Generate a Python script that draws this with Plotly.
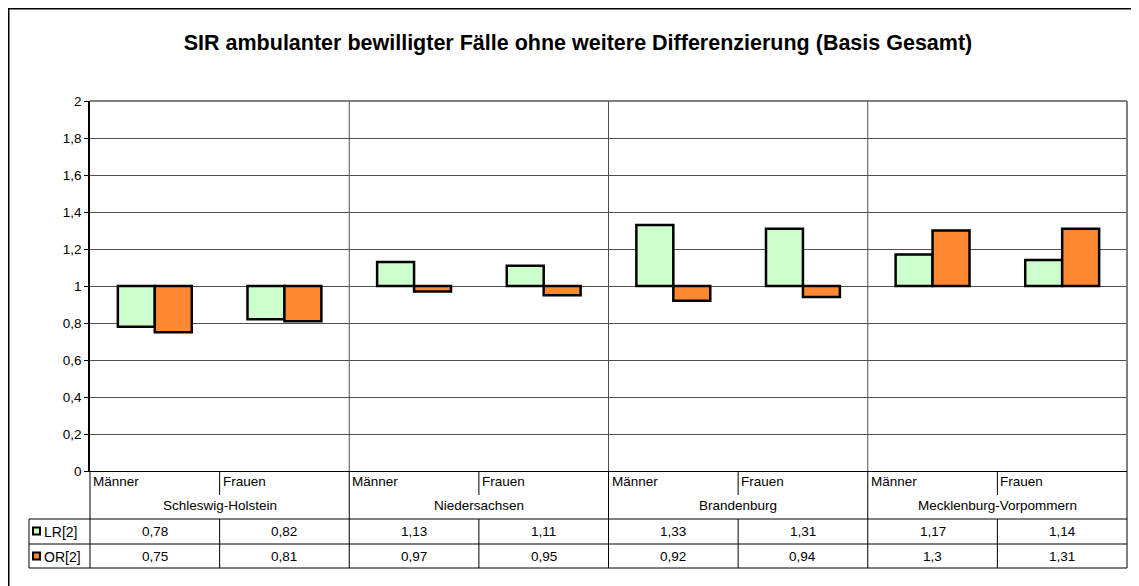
import plotly.graph_objects as go

title = "SIR ambulanter bewilligter Fälle ohne weitere Differenzierung (Basis Gesamt)"
regions = ["Schleswig-Holstein", "Niedersachsen", "Brandenburg", "Mecklenburg-Vorpommern"]
sexes = ["Männer", "Frauen"]
series_names = ["LR[2]", "OR[2]"]
lr_values = [0.78, 0.82, 1.13, 1.11, 1.33, 1.31, 1.17, 1.14]
or_values = [0.75, 0.81, 0.97, 0.95, 0.92, 0.94, 1.30, 1.31]
baseline = 1.0
colors = ["#CCFFCC", "#FF8833"]

# page offset caused by default body margin of the html page
OFF = 8
W, H = 1139 - OFF, 586 - OFF
# layout positions in page pixels (reference)
L, R, T, B = 90, 1127, 101, 471

PH = B - T
PW = R - L

def py(y):
    return (B - y) / PH

def px(x):
    return (x - L) / PW

n = len(lr_values)
xs = list(range(n))

def fmt(v):
    return f"{v:g}".replace(".", ",")

fig = go.Figure()
for name, vals, col in zip(series_names, [lr_values, or_values], colors):
    fig.add_trace(go.Bar(
        x=xs, y=[v - baseline for v in vals], base=baseline, name=name,
        marker=dict(color=col, line=dict(color="black", width=2.5)),
        showlegend=False,
    ))

font = "Liberation Sans, Arial, sans-serif"
FS = 13.5
shapes = []
ann = []

# outer frame (only left/top edges are inside the picture)
shapes.append(dict(type="line", xref="paper", yref="paper", x0=px(OFF + 0.75), x1=px(OFF + 0.75),
                   y0=py(600), y1=py(OFF + 0.75), line=dict(color="black", width=1.5), layer="below"))
shapes.append(dict(type="line", xref="paper", yref="paper", x0=px(OFF), x1=px(1160),
                   y0=py(OFF + 0.75), y1=py(OFF + 0.75), line=dict(color="black", width=1.5), layer="below"))
# plot border top/right (gray)
shapes.append(dict(type="line", xref="paper", yref="paper", x0=0, x1=1, y0=1, y1=1,
                   line=dict(color="#808080", width=2)))
shapes.append(dict(type="line", xref="paper", yref="paper", x0=1, x1=1, y0=0, y1=1,
                   line=dict(color="#808080", width=2)))

# group separators through plot and table
for g in range(1, len(regions)):
    xb = 2 * g - 0.5
    shapes.append(dict(type="line", xref="x", yref="paper", x0=xb, x1=xb, y0=0, y1=1,
                       line=dict(color="#505050", width=1)))
    shapes.append(dict(type="line", xref="x", yref="paper", x0=xb, x1=xb, y0=py(568), y1=0,
                       line=dict(color="black", width=1)))
# sex separators (short in label row, full in data rows)
for g in range(len(regions)):
    xb = 2 * g + 0.5
    shapes.append(dict(type="line", xref="x", yref="paper", x0=xb, x1=xb, y0=py(495), y1=0,
                       line=dict(color="black", width=1)))
    shapes.append(dict(type="line", xref="x", yref="paper", x0=xb, x1=xb, y0=py(568), y1=py(519),
                       line=dict(color="black", width=1)))
# table horizontal lines
for yy in [519, 544, 568]:
    shapes.append(dict(type="line", xref="paper", yref="paper", x0=px(29), x1=1, y0=py(yy), y1=py(yy),
                       line=dict(color="black", width=1)))
# table verticals
shapes.append(dict(type="line", xref="paper", yref="paper", x0=px(29), x1=px(29), y0=py(568), y1=py(519),
                   line=dict(color="black", width=1)))
shapes.append(dict(type="line", xref="paper", yref="paper", x0=0, x1=0, y0=py(568), y1=0,
                   line=dict(color="black", width=1)))
shapes.append(dict(type="line", xref="paper", yref="paper", x0=1, x1=1, y0=py(568), y1=0,
                   line=dict(color="black", width=1)))

# category labels
for i in xs:
    ann.append(dict(x=i - 0.5, y=py(482), xref="x", yref="paper", text=sexes[i % 2],
                    xanchor="left", yanchor="middle", showarrow=False, xshift=1,
                    font=dict(family=font, size=FS, color="black")))
for g, reg in enumerate(regions):
    ann.append(dict(x=2 * g + 0.5, y=py(505), xref="x", yref="paper", text=reg,
                    xanchor="center", yanchor="middle", showarrow=False,
                    font=dict(family=font, size=FS, color="black")))
# value rows
row_y = [531, 556]
for vals, ry in zip([lr_values, or_values], row_y):
    for i, v in zip(xs, vals):
        ann.append(dict(x=i, y=py(ry), xref="x", yref="paper", text=fmt(v),
                        xanchor="center", yanchor="middle", showarrow=False,
                        font=dict(family=font, size=FS, color="black")))
# legend keys
for name, col, ry in zip(series_names, colors, row_y):
    shapes.append(dict(type="rect", xref="paper", yref="paper", x0=px(33), x1=px(40),
                       y0=py(ry + 3.5), y1=py(ry - 3.5), fillcolor=col,
                       line=dict(color="black", width=2)))
    ann.append(dict(x=px(41.5), y=py(ry + 0.5), xref="paper", yref="paper", text=name,
                    xanchor="left", yanchor="middle", showarrow=False,
                    font=dict(family=font, size=FS + 0.5, color="black")))

fig.update_layout(
    width=W, height=H, autosize=False,
    margin=dict(l=L - OFF, r=(W + OFF) - R, t=T - OFF, b=(H + OFF) - B, pad=0),
    paper_bgcolor="white", plot_bgcolor="white",
    separators=",.",
    title=dict(text="<b>" + title + "</b>", x=(578 - OFF) / W, xref="container", xanchor="center",
               y=1 - (42 - OFF) / H, yref="container", yanchor="middle",
               font=dict(family=font, size=21.5, color="black")),
    barmode="group", bargap=0.43, bargroupgap=0,
    xaxis=dict(range=[-0.5, n - 0.5], showticklabels=False, showgrid=False, zeroline=False,
               showline=True, linecolor="black", linewidth=1, ticks=""),
    yaxis=dict(range=[0, 2], dtick=0.2, tick0=0, showgrid=True, gridcolor="#505050", gridwidth=1,
               zeroline=False, showline=True, linecolor="black", linewidth=1.5,
               ticks="outside", ticklen=4, tickcolor="black", tickwidth=1,
               tickfont=dict(family=font, size=FS, color="black")),
    shapes=shapes, annotations=ann,
)
fig.write_html("out.html")
